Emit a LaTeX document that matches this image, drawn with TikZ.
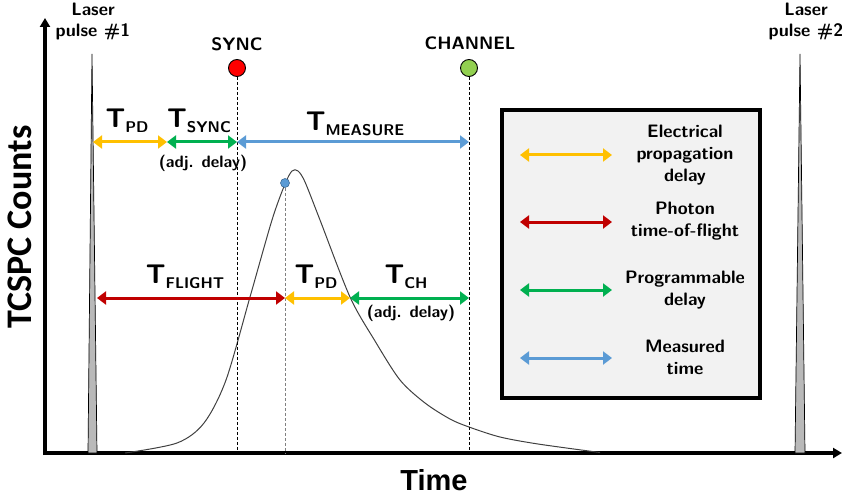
\documentclass[tikz,border=0pt]{standalone}
\usepackage{fontspec}
\usetikzlibrary{arrows.meta,positioning}
\newfontfamily\calfont{Carlito}
\newfontfamily\arialfont{Liberation Sans}
\definecolor{elyellow}{HTML}{FFC000}
\definecolor{flred}{HTML}{C00000}
\definecolor{pggreen}{HTML}{00B050}
\definecolor{msblue}{HTML}{5B9BD5}
\definecolor{chgreen}{HTML}{92D050}
\newcommand{\tlab}[1]{{\fontsize{27}{27}\selectfont T}\raisebox{-5pt}{\fontsize{15.5}{15.5}\selectfont #1}}

\begin{document}
\begin{tikzpicture}[x=1pt, y=-1pt,
  axisline/.style={line width=3.5pt, -{Triangle[length=9pt,width=10pt]}},
  pulse/.style={fill=gray!55, draw=black, line width=0.7pt},
  sigdot/.style={circle, draw=black, line width=0.9pt, inner sep=0pt, minimum size=17pt},
  peakdot/.style={circle, draw=msblue!70!black, fill=msblue, line width=0.6pt, inner sep=0pt, minimum size=9pt},
  vline/.style={black, line width=0.6pt, dash pattern=on 3pt off 2pt},
  tarrow/.style={line width=3pt, {Triangle[length=9pt,width=13pt]}-{Triangle[length=9pt,width=13pt]}},
  lbl/.style={font=\sffamily\bfseries\fontsize{18}{21}\selectfont, align=center},
  siglbl/.style={font=\sffamily\bfseries\fontsize{18}{18}\selectfont},
  tlbl/.style={font=\sffamily\bfseries, anchor=base},
  adjlbl/.style={font=\sffamily\bfseries\fontsize{16.5}{17}\selectfont},
  leglbl/.style={font=\sffamily\bfseries\fontsize{18}{22}\selectfont, align=center}]

\useasboundingbox (0,0) rectangle (842,497);

% axes
\coordinate (ytop) at (45,18);
\coordinate (xend) at (842,453);
\draw[axisline] (45,455) -- (ytop);
\draw[axisline] (43,453) -- (xend);
\node[font=\calfont\bfseries\fontsize{36}{36}\selectfont, rotate=90] (ylab) at (20,227) {TCSPC Counts};
\node[font=\arialfont\bfseries\fontsize{29}{29}\selectfont] (xlab) at (434,480) {Time};

% laser pulses
\filldraw[pulse] (88,453) -- (92,54) -- (97,453) -- cycle;
\filldraw[pulse] (795,453) -- (800,54) -- (805,453) -- cycle;
\node[lbl] (las1) at (93,22) {Laser\\pulse \#1};
\node[lbl] (las2) at (806,22) {Laser\\pulse \#2};

% measured histogram
\draw[black!75, line width=1pt] plot[smooth, tension=0.5] coordinates {(125,453) (177,443) (204,423) (226,380) (250,297) (272,220) (285,184) (292,171) (298,171) (305,182) (320,220) (350,297) (375,341) (400,380) (425,403) (450,419) (469,427) (500,437) (538,444) (600,452.5)};

% sync / channel markers
\node[siglbl] (synclab) at (237,44) {SYNC};
\node[siglbl] (chlab) at (470,43) {CHANNEL};
\node[sigdot, fill=red] (sync) at (237,68) {};
\node[sigdot, fill=chgreen] (chan) at (469,68) {};
\node[peakdot] (peak) at (285,183) {};
\coordinate (syncb) at (237,453);
\coordinate (chanb) at (469,453);
\coordinate (peakb) at (285,453);
\draw[vline] (sync) -- (syncb);
\draw[vline] (chan) -- (chanb);
\draw[vline, gray] (peak) -- (peakb);

% upper row
\coordinate (u0) at (93,142);
\coordinate (u1) at (167,142);
\coordinate (u2) at (237,142);
\coordinate (u3) at (469,142);
\draw[tarrow, elyellow] (u0) -- (u1);
\draw[tarrow, pggreen] (u1) -- (u2);
\draw[tarrow, msblue] (u2) -- (u3);
\node[tlbl] (tpd1) at (127,128) {\tlab{PD}};
\node[tlbl] (tsync) at (199,128) {\tlab{SYNC}};
\node[tlbl] (tmeas) at (355,131) {\tlab{MEASURE}};
\node[adjlbl] (adj1) at (203,163) {(adj. delay)};

% lower row
\coordinate (w0) at (97,298);
\coordinate (w1) at (285,298);
\coordinate (w2) at (350,298);
\coordinate (w3) at (469,298);
\draw[tarrow, flred] (w0) -- (w1);
\draw[tarrow, elyellow] (w1) -- (w2);
\draw[tarrow, pggreen] (w2) -- (w3);
\node[tlbl] (tfl) at (185,283) {\tlab{FLIGHT}};
\node[tlbl] (tpd2) at (316,283) {\tlab{PD}};
\node[tlbl] (tch) at (406,283) {\tlab{CH}};
\node[adjlbl] (adj2) at (411,313) {(adj. delay)};

% legend
\node[draw=black, line width=4pt, fill=gray!10, minimum width=258pt, minimum height=288pt] (legend) at (631,254) {};
\foreach \y/\c/\n in {155/elyellow/a, 222/flred/b, 290/pggreen/c, 358/msblue/d} {
  \coordinate (\n l) at (520,\y);
  \coordinate (\n r) at (612,\y);
  \draw[tarrow, \c] (\n l) -- (\n r);
}
\node[leglbl] (lga) at (685,155) {Electrical\\propagation\\delay};
\node[leglbl] (lgb) at (685,221) {Photon\\time-of-flight};
\node[leglbl] (lgc) at (685,290) {Programmable\\delay};
\node[leglbl] (lgd) at (685,357) {Measured\\time};

\end{tikzpicture}
\end{document}
